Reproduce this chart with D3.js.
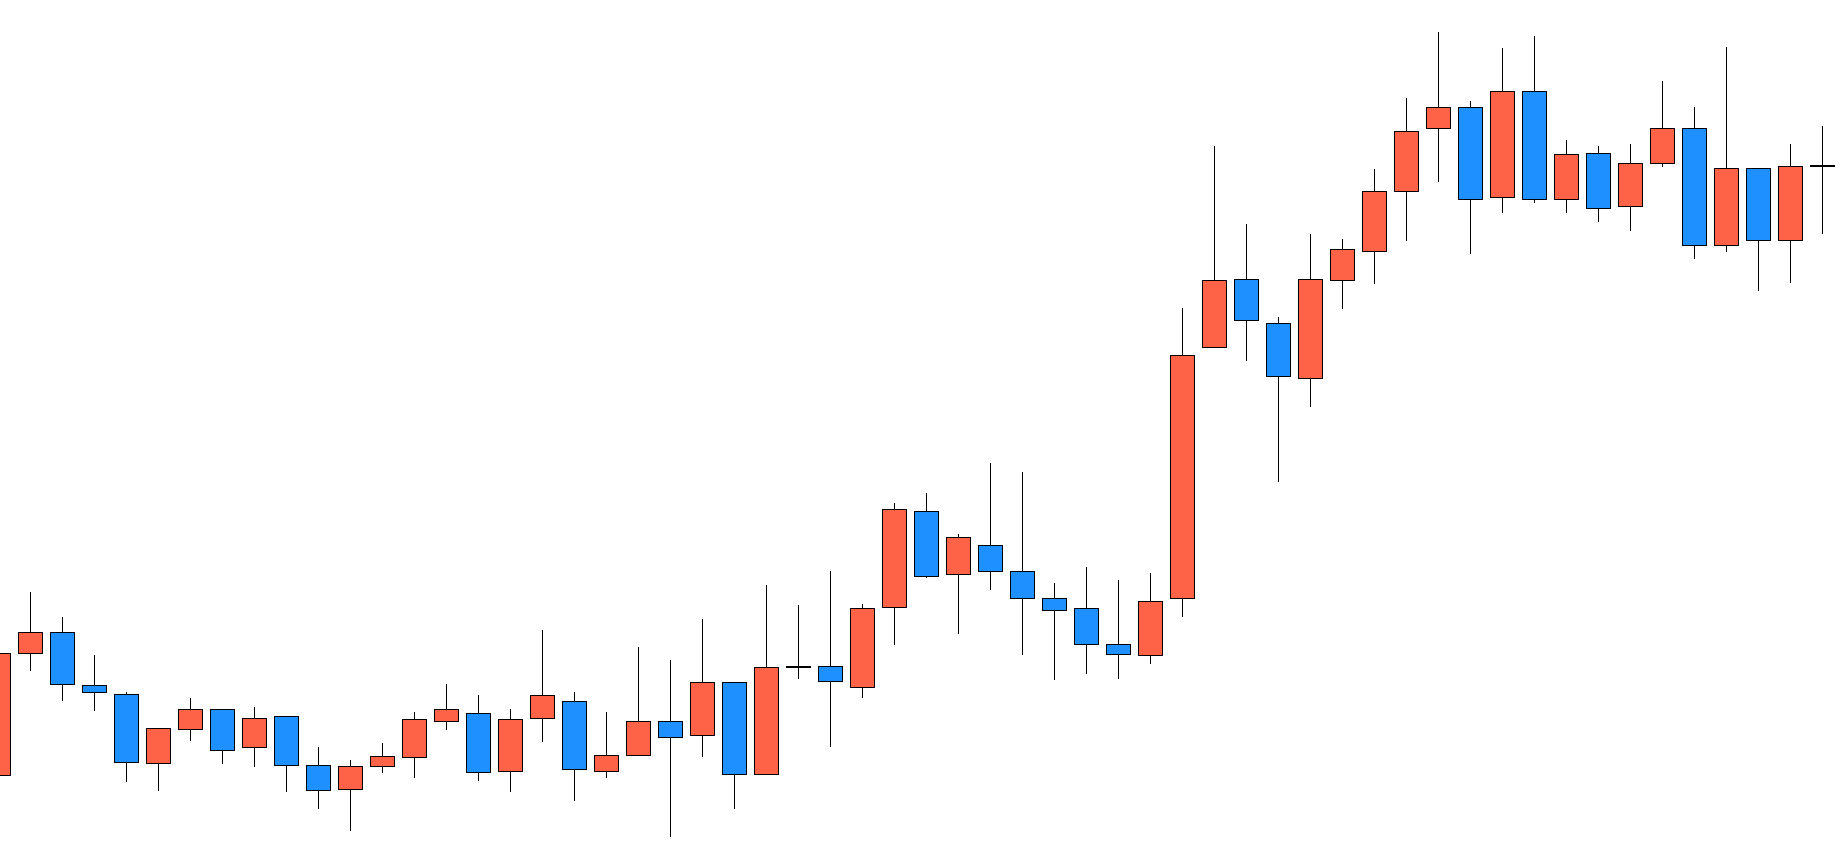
<!DOCTYPE html>
<html>
<head>
<meta charset="utf-8">
<script src="https://cdn.jsdelivr.net/npm/d3@7"></script>
<style>
  html, body { margin: 0; padding: 0; background: #ffffff; overflow: hidden; }
  svg { display: block; }
</style>
</head>
<body>
<svg id="chart"></svg>
<script>
// Candle index (categories)
const periods = d3.range(58);

// Series values (price units)
const openValues = [
  124.7, 246.7, 267.7, 214.7, 205.7, 136.7, 170.7, 190.7, 152.7, 183.7,
  134.7, 110.7, 133.7, 142.7, 178.7, 186.7, 128.7, 181.7, 198.7, 128.7,
  144.7, 178.7, 164.7, 217.7, 125.7, 233.3, 233.7, 212.7, 292.7, 388.7,
  325.7, 354.7, 328.7, 301.7, 291.7, 255.7, 244.7, 301.7, 552.7, 620.7,
  576.7, 521.7, 619.7, 648.7, 708.7, 771.7, 792.7, 702.7, 808.7, 700.7,
  746.7, 693.7, 736.7, 771.7, 654.7, 731.7, 659.7, 734.3
];
const highValues = [
  246.7, 308.0, 282.7, 244.7, 207.7, 171.7, 202.0, 190.7, 193.0, 183.7,
  153.0, 140.0, 157.0, 188.0, 216.0, 205.0, 191.0, 270.0, 208.0, 188.0,
  253.0, 240.0, 281.0, 217.7, 315.0, 295.0, 329.0, 296.0, 397.0, 407.0,
  366.0, 437.0, 428.0, 317.0, 333.0, 320.0, 327.0, 592.0, 754.0, 676.0,
  583.0, 666.0, 661.0, 731.0, 802.0, 868.0, 799.0, 852.0, 864.0, 760.0,
  754.0, 756.0, 819.0, 792.7, 853.0, 731.7, 756.0, 774.0
];
const lowValues = [
  124.7, 229.3, 199.3, 189.3, 118.3, 109.3, 159.3, 136.3, 133.3, 108.3,
  90.7, 69.3, 127.3, 122.3, 170.3, 119.3, 108.3, 158.3, 99.3, 122.3,
  144.7, 63.3, 143.3, 91.3, 125.7, 221.3, 153.3, 202.3, 255.3, 322.3,
  266.3, 310.3, 245.3, 220.3, 226.3, 221.3, 236.3, 283.3, 552.7, 539.3,
  418.3, 493.3, 591.3, 616.3, 659.3, 718.3, 646.3, 687.3, 697.3, 687.3,
  678.3, 669.3, 733.3, 641.3, 648.3, 609.3, 617.3, 666.3
];
const closeValues = [
  246.7, 267.7, 215.7, 207.7, 137.7, 171.7, 190.7, 149.7, 181.7, 134.7,
  110.0, 133.7, 143.7, 180.7, 190.7, 127.7, 180.7, 204.7, 130.7, 144.7,
  178.7, 162.7, 217.7, 125.7, 232.7, 233.3, 218.7, 291.7, 390.7, 323.7,
  362.7, 328.7, 301.7, 289.7, 255.7, 245.7, 298.7, 544.7, 619.7, 579.7,
  523.7, 620.7, 650.7, 708.7, 768.7, 792.7, 700.7, 808.7, 700.7, 745.7,
  691.7, 736.7, 771.7, 654.7, 731.7, 659.7, 733.7, 734.3
];

const upColor = "#FF6347";
const downColor = "#1E90FF";

const W = 1847, H = 856;
const candles = periods.map((p, i) => ({
  p, open: openValues[i], high: highValues[i], low: lowValues[i], close: closeValues[i]
}));

const svg = d3.select("#chart").attr("width", W).attr("height", H);

const x = d3.scaleBand()
  .domain(periods)
  .range([-18, -18 + 32 * periods.length])
  .paddingInner(0.25)
  .paddingOuter(0.125);

const y = d3.scaleLinear().domain([44, 900]).range([H, 0]);

const g = svg.append("g");

g.selectAll("line.wick")
  .data(candles)
  .join("line")
  .attr("class", "wick")
  .attr("x1", d => x(d.p) + x.bandwidth() / 2)
  .attr("x2", d => x(d.p) + x.bandwidth() / 2)
  .attr("y1", d => y(d.high))
  .attr("y2", d => y(d.low))
  .attr("stroke", "#000")
  .attr("stroke-width", 1)
  .attr("shape-rendering", "crispEdges");

g.selectAll("rect.body")
  .data(candles)
  .join("rect")
  .attr("class", "body")
  .attr("x", d => x(d.p))
  .attr("width", x.bandwidth())
  .attr("y", d => y(Math.max(d.open, d.close)))
  .attr("height", d => Math.max(1, Math.abs(y(d.open) - y(d.close))))
  .attr("fill", d => d.close >= d.open ? upColor : downColor)
  .attr("stroke", "#000")
  .attr("stroke-width", 1)
  .attr("shape-rendering", "crispEdges");
</script>
</body>
</html>
